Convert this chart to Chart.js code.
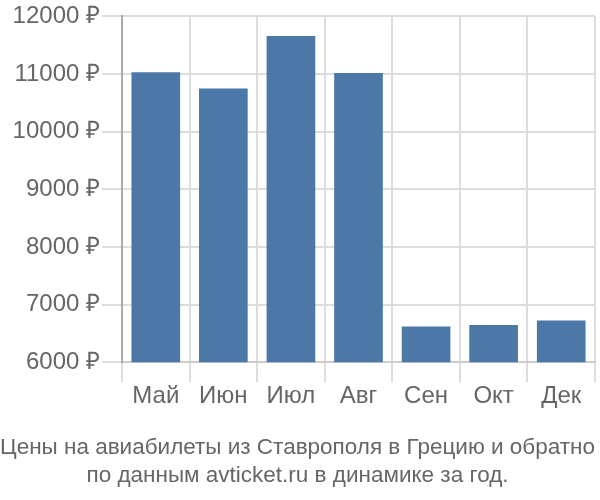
<!DOCTYPE html>
<html><head><meta charset="utf-8">
<script src="https://cdn.jsdelivr.net/npm/chart.js@4/dist/chart.umd.min.js"></script>
<style>html,body{margin:0;padding:0;background:#fff}#wrap{width:600px;height:500px}</style>
</head><body><div id="wrap"><canvas id="c" width="600" height="500"></canvas></div>
<script>
const categories = ['Май','Июн','Июл','Авг','Сен','Окт','Дек'];
const prices = [11030, 10750, 11660, 11020, 6620, 6645, 6725];
const yTicks = [6000, 7000, 8000, 9000, 10000, 11000, 12000];
const titleLines = ['Цены на авиабилеты из Ставрополя в Грецию и обратно', 'по данным avticket.ru в динамике за год.'];

Chart.defaults.font.family = '"Liberation Sans", Arial, sans-serif';
Chart.defaults.color = '#666';

new Chart(document.getElementById('c'), {
  type: 'bar',
  data: {
    labels: categories,
    datasets: [{ data: prices, backgroundColor: '#4c78a8', borderWidth: 0 }]
  },
  options: {
    responsive: false,
    animation: false,
    layout: { padding: { top: 0, right: 5, left: 0, bottom: 0 } },
    plugins: {
      legend: { display: false },
      tooltip: { enabled: false },
      title: {
        display: true, position: 'bottom', text: titleLines,
        font: { size: 22.5, weight: 'normal', lineHeight: 1.244 }, color: '#666',
        padding: { top: 23, bottom: 10 }
      }
    },
    scales: {
      x: {
        grid: { color: '#ddd', lineWidth: 2, offset: true, tickLength: 20, drawTicks: true },
        border: { color: '#ccc', width: 2 },
        ticks: { font: { size: 24 }, color: '#666', padding: 0 }
      },
      y: {
        min: 6000, max: 12000,
        afterBuildTicks: (s) => { s.ticks = yTicks.map(v => ({ value: v })); },
        afterFit: (s) => { s.width = 122; },
        grid: { color: '#ddd', lineWidth: 2, tickLength: 20 },
        border: { color: '#aaa', width: 2 },
        ticks: { font: { size: 24 }, color: '#666', padding: 2, callback: (v) => v + ' ₽' }
      }
    }
  }
});
</script></body></html>
